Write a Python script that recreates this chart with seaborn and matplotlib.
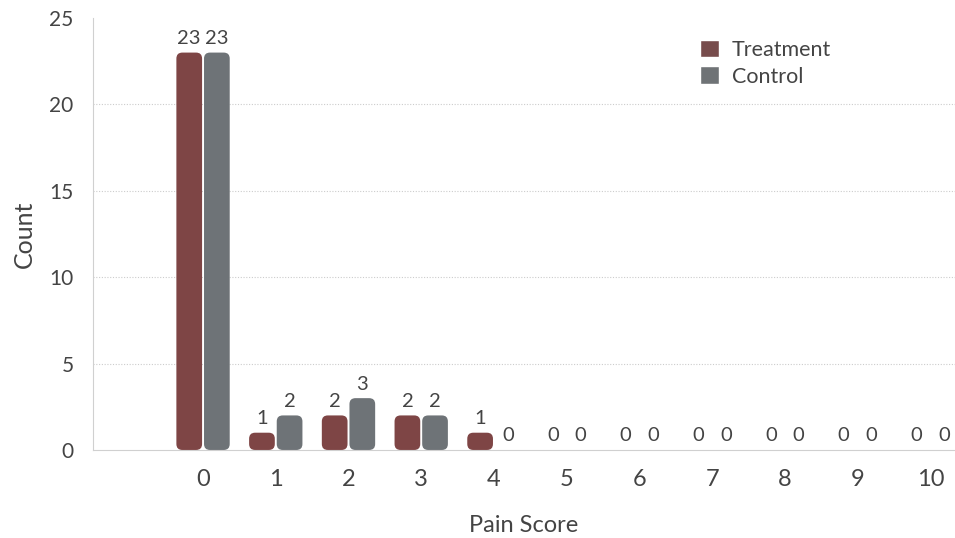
import pandas as pd
import matplotlib
matplotlib.use("Agg")
import matplotlib.pyplot as plt
import seaborn as sns
from matplotlib.patches import FancyBboxPatch

# data
pain_scores = ["0", "1", "2", "3", "4", "5", "6", "7", "8", "9", "10"]
treatment = [23, 1, 2, 2, 1, 0, 0, 0, 0, 0, 0]
control = [23, 2, 3, 2, 0, 0, 0, 0, 0, 0, 0]
groups = ["Treatment", "Control"]
colors = ["#7e4545", "#6e7377"]

df = pd.DataFrame({
    "score": pain_scores * 2,
    "count": treatment + control,
    "group": [groups[0]] * len(pain_scores) + [groups[1]] * len(pain_scores),
})

sns.set_style("white")
plt.rcParams["font.family"] = ["Lato", "DejaVu Sans"]
text_col = "#444444"

fig = plt.figure(figsize=(9.55, 5.38), dpi=100)
ax = fig.add_axes([0.0974, 0.1636, 0.9026, 0.8029])

sns.barplot(data=df, x="score", y="count", hue="group", order=pain_scores,
            palette=colors, width=0.76, gap=0.07, ax=ax, legend=True)

ax.set_xlim(-1.513, 10.34)
ax.set_ylim(0, 25)

# value labels on top of every bar
for cont in ax.containers:
    ax.bar_label(cont, padding=4, fontsize=14.5, color=text_col)

# swap the square bars for rounded ones
px_x = (10.34 + 1.513) / (955 * 0.9026)
px_y = 25 / (538 * 0.8029)
aspect = px_y / px_x
r = 6 * px_x
for i, cont in enumerate(ax.containers):
    for p in cont.patches:
        x, y, w, h = p.get_x(), p.get_y(), p.get_width(), p.get_height()
        p.set_visible(False)
        if h <= 0:
            continue
        box = FancyBboxPatch((x + r, y + r * aspect), w - 2 * r, h - 2 * r * aspect,
                             boxstyle=f"round,pad={r}", mutation_aspect=aspect,
                             facecolor=colors[i], edgecolor="none", zorder=2)
        ax.add_patch(box)

ax.set_yticks([0, 5, 10, 15, 20, 25])
ax.yaxis.grid(True, linestyle=(0, (1, 1.5)), color="#cccccc", linewidth=0.8)
gl = ax.get_ygridlines()
gl[0].set_visible(False)
gl[-1].set_visible(False)
ax.set_axisbelow(True)

for s in ["top", "right"]:
    ax.spines[s].set_visible(False)
ax.spines["left"].set_color("#d0d0d0")
ax.spines["bottom"].set_color("#d0d0d0")
ax.tick_params(axis="both", length=0, colors=text_col)
ax.tick_params(axis="x", labelsize=17, pad=14)
ax.tick_params(axis="y", labelsize=15, pad=14)

ax.set_xlabel("Pain Score", fontsize=17, color=text_col, labelpad=18)
ax.set_ylabel("Count", fontsize=18, color=text_col, labelpad=10)

handles, labels = ax.get_legend_handles_labels()
ax.legend(handles, labels, loc="upper right", bbox_to_anchor=(0.879, 0.995),
          frameon=False, fontsize=15.5, handlelength=0.9, handleheight=0.9,
          handletextpad=0.6, labelspacing=0.3, labelcolor=text_col)

fig.savefig("out.png", dpi=100)
